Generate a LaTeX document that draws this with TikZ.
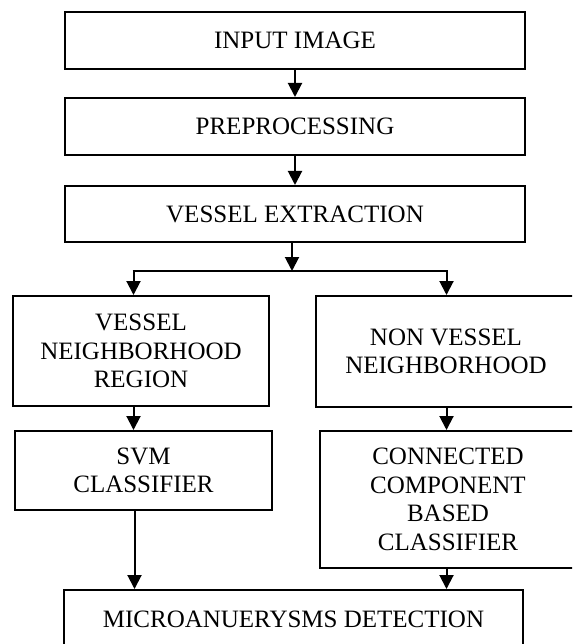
\documentclass[tikz,border=0pt]{standalone}
\usepackage{fontspec}
\setmainfont{Liberation Serif}
\usetikzlibrary{arrows.meta}
\begin{document}
\begin{tikzpicture}[x=1pt,y=1pt,
  box/.style={draw=black, line width=2pt, rectangle, inner sep=0pt, align=center,
    font=\fontsize{25}{28.5}\selectfont},
  arr/.style={draw=black, line width=2pt, -{Triangle[width=14pt,length=14pt]}},
  conn/.style={draw=black, line width=2pt}]
\useasboundingbox (0,0) rectangle (572,-644);
\clip (0,0) rectangle (572,-644);
\fill[white] (0,0) rectangle (572,-644);

\node[box, minimum width=460pt, minimum height=57pt] (in)  at (295,-40.5) {INPUT IMAGE};
\node[box, minimum width=460pt, minimum height=57pt] (pre) at (295,-126.5) {PREPROCESSING};
\node[box, minimum width=460pt, minimum height=56pt] (ve)  at (295,-214) {VESSEL EXTRACTION};
\node[box, minimum width=256pt, minimum height=110pt] (vnr) at (141,-351) {VESSEL\\NEIGHBORHOOD\\REGION};
\node[box, minimum width=260pt, minimum height=111pt] (nvn) at (446,-351.5) {NON VESSEL\\NEIGHBORHOOD};
\node[box, minimum width=257pt, minimum height=79pt] (svm) at (143.5,-470.5) {SVM\\CLASSIFIER};
\node[box, minimum width=256pt, minimum height=137pt] (ccb) at (448,-499.5) {CONNECTED\\COMPONENT\\BASED\\CLASSIFIER};
\node[box, minimum width=459pt, minimum height=58pt] (mic) at (293.5,-619) {MICROANUERYSMS DETECTION};

\coordinate (j)  at (292,-271);
\coordinate (jl) at (133.5,-271);
\coordinate (jr) at (446.5,-271);

\draw[arr] (in) -- (pre);
\draw[arr] (pre) -- (ve);
\draw[arr] (j |- ve.south) -- (j);
\draw[conn] ([xshift=-1pt]jl) -- ([xshift=1pt]jr);
\draw[arr] (jl) -- (jl |- vnr.north);
\draw[arr] (jr) -- (jr |- nvn.north);
\draw[arr] (jl |- vnr.south) -- (jl |- svm.north);
\draw[arr] (jr |- nvn.south) -- (jr |- ccb.north);
\draw[arr] ([xshift=1pt]jl |- svm.south) -- ([xshift=1pt]jl |- mic.north);
\draw[arr] (jr |- ccb.south) -- (jr |- mic.north);
\end{tikzpicture}
\end{document}
